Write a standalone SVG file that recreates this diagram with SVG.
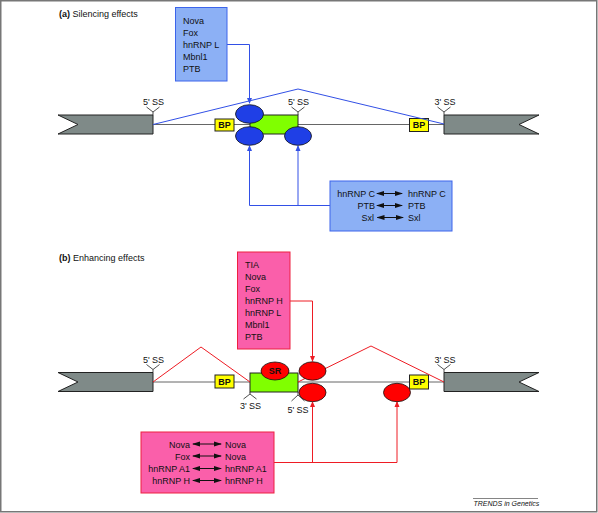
<svg xmlns="http://www.w3.org/2000/svg" width="598" height="513" viewBox="0 0 598 513">
<defs>
<style>
text{font-family:"Liberation Sans",Arial,sans-serif;font-size:9px;fill:#111}
.b{font-weight:bold}
.exon{fill:#7f8a88;stroke:#222;stroke-width:1}
.green{fill:#80ff00;stroke:#222;stroke-width:1}
.bp{fill:#ffff00;stroke:#222;stroke-width:1}
.intron{stroke:#666;stroke-width:1;fill:none}
.tick{stroke:#222;stroke-width:0.8;fill:none}
.bell{fill:#1f3fe6;stroke:#111;stroke-width:0.8}
.rell{fill:#ff0000;stroke:#111;stroke-width:0.8}
.bbox{fill:#8cb0f5;stroke:#3c64eb;stroke-width:1}
.pbox{fill:#fa5faa;stroke:#ee2040;stroke-width:1}
.bl{stroke:#3250e6;stroke-width:1;fill:none}
.rl{stroke:#ee1c24;stroke-width:1;fill:none}
.dbl{stroke:#111;stroke-width:1;fill:none}
.mid{text-anchor:middle}
.end{text-anchor:end}
</style>
<marker id="ab" markerWidth="6" markerHeight="6" refX="5" refY="3" orient="auto" markerUnits="userSpaceOnUse"><path d="M0,0.5 L6,3 L0,5.5 Z" fill="#3250e6"/></marker>
<marker id="ar" markerWidth="6" markerHeight="6" refX="5" refY="3" orient="auto" markerUnits="userSpaceOnUse"><path d="M0,0.5 L6,3 L0,5.5 Z" fill="#ee1c24"/></marker>
<marker id="ak" markerWidth="8" markerHeight="6" refX="7" refY="3" orient="auto-start-reverse" markerUnits="userSpaceOnUse"><path d="M0,0.5 L8,3 L0,5.5 Z" fill="#111"/></marker>
</defs>
<rect x="0.75" y="0.75" width="596" height="511" fill="#fff" stroke="#777" stroke-width="1.5"/>

<!-- Panel (a) -->
<text x="59" y="17"><tspan class="b">(a)</tspan> Silencing effects</text>

<g id="a-intron"><line class="intron" x1="153" y1="124.5" x2="444" y2="124.5"/></g>
<g id="a-bp1"><rect class="bp" x="215" y="119" width="19" height="12"/><text class="b mid" x="224.5" y="128.3">BP</text></g>
<g id="a-bp2"><rect class="bp" x="409.5" y="118.5" width="19" height="13"/><text class="b mid" x="419" y="128.3">BP</text></g>
<g id="a-exon1"><path class="exon" d="M58,115 L153,115 L153,134 L58,134 L78,124.5 Z"/>
<path class="tick" d="M153,115 V112 M146.5,107 L153,112 L159.5,107"/><text class="mid" x="153.5" y="104.5">5' SS</text></g>
<g id="a-exon3"><path class="exon" d="M444,115 L539,115 L519,124.5 L539,134 L444,134 Z"/>
<path class="tick" d="M444,115 V112 M437.5,107 L444,112 L450.5,107"/><text class="mid" x="445" y="104.5">3' SS</text></g>
<g id="a-exon2"><rect class="green" x="250" y="115" width="48" height="19"/>
<path class="tick" d="M298,115 V112 M291.5,107 L298,112 L304.5,107"/><text class="mid" x="298.5" y="104.5">5' SS</text></g>

<g id="a-connectors">
<polyline class="bl" points="153,124.5 298,89 444,124"/>
<polyline class="bl" points="227,44.5 249.5,44.5 249.5,103" marker-end="url(#ab)"/>
<polyline class="bl" points="330,205.5 249.5,205.5 249.5,146" marker-end="url(#ab)"/>
<polyline class="bl" points="298,205.5 298,146" marker-end="url(#ab)"/>
</g>

<g id="a-prot1"><ellipse class="bell" cx="249.5" cy="114" rx="14" ry="9.3"/></g>
<g id="a-prot2"><ellipse class="bell" cx="249.5" cy="136" rx="14" ry="9.3"/></g>
<g id="a-prot3"><ellipse class="bell" cx="298" cy="136" rx="13.5" ry="9.3"/></g>

<g id="a-box1"><rect class="bbox" x="175.5" y="7.5" width="51.5" height="73.5"/>
<text x="183" y="24">Nova</text><text x="183" y="36">Fox</text><text x="183" y="48">hnRNP L</text><text x="183" y="60">Mbnl1</text><text x="183" y="72">PTB</text></g>

<g id="a-box2"><rect class="bbox" x="330" y="181" width="122" height="50"/>
<text class="end" x="375" y="196.5">hnRNP C</text><text x="408" y="196.5">hnRNP C</text>
<text class="end" x="375" y="208.5">PTB</text><text x="408" y="208.5">PTB</text>
<text class="end" x="374" y="220.5">Sxl</text><text x="408" y="220.5">Sxl</text>
<line class="dbl" x1="377" y1="193.5" x2="402" y2="193.5" marker-start="url(#ak)" marker-end="url(#ak)"/>
<line class="dbl" x1="377" y1="205.5" x2="402" y2="205.5" marker-start="url(#ak)" marker-end="url(#ak)"/>
<line class="dbl" x1="377.5" y1="217.5" x2="403" y2="217.5" marker-start="url(#ak)" marker-end="url(#ak)"/>
</g>

<!-- Panel (b) -->
<text x="59" y="260.5"><tspan class="b">(b)</tspan> Enhancing effects</text>

<g id="b-intron"><line class="intron" x1="153" y1="382" x2="444" y2="382"/></g>
<g id="b-bp1"><rect class="bp" x="215" y="375" width="19" height="13"/><text class="b mid" x="224.5" y="384.8">BP</text></g>
<g id="b-bp2"><rect class="bp" x="409.5" y="375" width="19" height="14"/><text class="b mid" x="419" y="385.2">BP</text></g>
<g id="b-exon1"><path class="exon" d="M58,372.5 L153,372.5 L153,391.5 L58,391.5 L78,382 Z"/>
<path class="tick" d="M153,372.5 V369.5 M146.5,364.5 L153,369.5 L159.5,364.5"/><text class="mid" x="153.5" y="362.5">5' SS</text></g>
<g id="b-exon3"><path class="exon" d="M444,372.5 L539,372.5 L519,382 L539,391.5 L444,391.5 Z"/>
<path class="tick" d="M444,372.5 V369.5 M437.5,364.5 L444,369.5 L450.5,364.5"/><text class="mid" x="445" y="362.5">3' SS</text></g>
<g id="b-exon2"><rect class="green" x="250" y="373" width="48" height="19"/>
<path class="tick" d="M250,392 V394 M243.5,399 L250,394 L256.5,399"/><text class="mid" x="250.5" y="408.5">3' SS</text>
<path class="tick" d="M298,392 V395 M291.5,401 L298,395 L304.5,401"/><text class="mid" x="298" y="412.5">5' SS</text></g>

<g id="b-connectors">
<polyline class="rl" points="153,382 201,347 250,382"/>
<polyline class="rl" points="298,382 371,346 444,382"/>
<polyline class="rl" points="290,301 312.5,301 312.5,361" marker-end="url(#ar)"/>
<polyline class="rl" points="274,462.5 397,462.5 397,402" marker-end="url(#ar)"/>
<polyline class="rl" points="312.5,462.5 312.5,402" marker-end="url(#ar)"/>
</g>

<g id="b-sr"><ellipse class="rell" cx="275" cy="371" rx="14" ry="9"/><text class="b mid" x="275" y="374.3">SR</text></g>
<g id="b-prot1"><ellipse class="rell" cx="312.5" cy="371" rx="13.5" ry="9.2"/></g>
<g id="b-prot2"><ellipse class="rell" cx="312.5" cy="392.5" rx="13.5" ry="9.2"/></g>
<g id="b-prot3"><ellipse class="rell" cx="397" cy="392.5" rx="13.5" ry="9.2"/></g>

<g id="b-box1"><rect class="pbox" x="237.5" y="252" width="52.5" height="97"/>
<text x="245" y="267.5">TIA</text><text x="245" y="279.5">Nova</text><text x="245" y="291.5">Fox</text><text x="245" y="303.5">hnRNP H</text><text x="245" y="315.5">hnRNP L</text><text x="245" y="327.5">Mbnl1</text><text x="245" y="339.5">PTB</text></g>

<g id="b-box2"><rect class="pbox" x="141" y="432" width="133" height="61"/>
<text class="end" x="190" y="447.5">Nova</text><text x="225" y="447.5">Nova</text>
<text class="end" x="190" y="459.5">Fox</text><text x="225" y="459.5">Nova</text>
<text class="end" x="190" y="471.5">hnRNP A1</text><text x="225" y="471.5">hnRNP A1</text>
<text class="end" x="190" y="483.5">hnRNP H</text><text x="225" y="483.5">hnRNP H</text>
<line class="dbl" x1="193" y1="444" x2="221" y2="444" marker-start="url(#ak)" marker-end="url(#ak)"/>
<line class="dbl" x1="193" y1="456" x2="221" y2="456" marker-start="url(#ak)" marker-end="url(#ak)"/>
<line class="dbl" x1="193" y1="468.5" x2="221" y2="468.5" marker-start="url(#ak)" marker-end="url(#ak)"/>
<line class="dbl" x1="193" y1="480.5" x2="221" y2="480.5" marker-start="url(#ak)" marker-end="url(#ak)"/>
</g>

<line x1="473" y1="498.5" x2="538" y2="498.5" stroke="#333" stroke-width="0.6"/>
<text x="473.5" y="506" style="font-size:7px;font-style:italic">TRENDS in Genetics</text>
</svg>
